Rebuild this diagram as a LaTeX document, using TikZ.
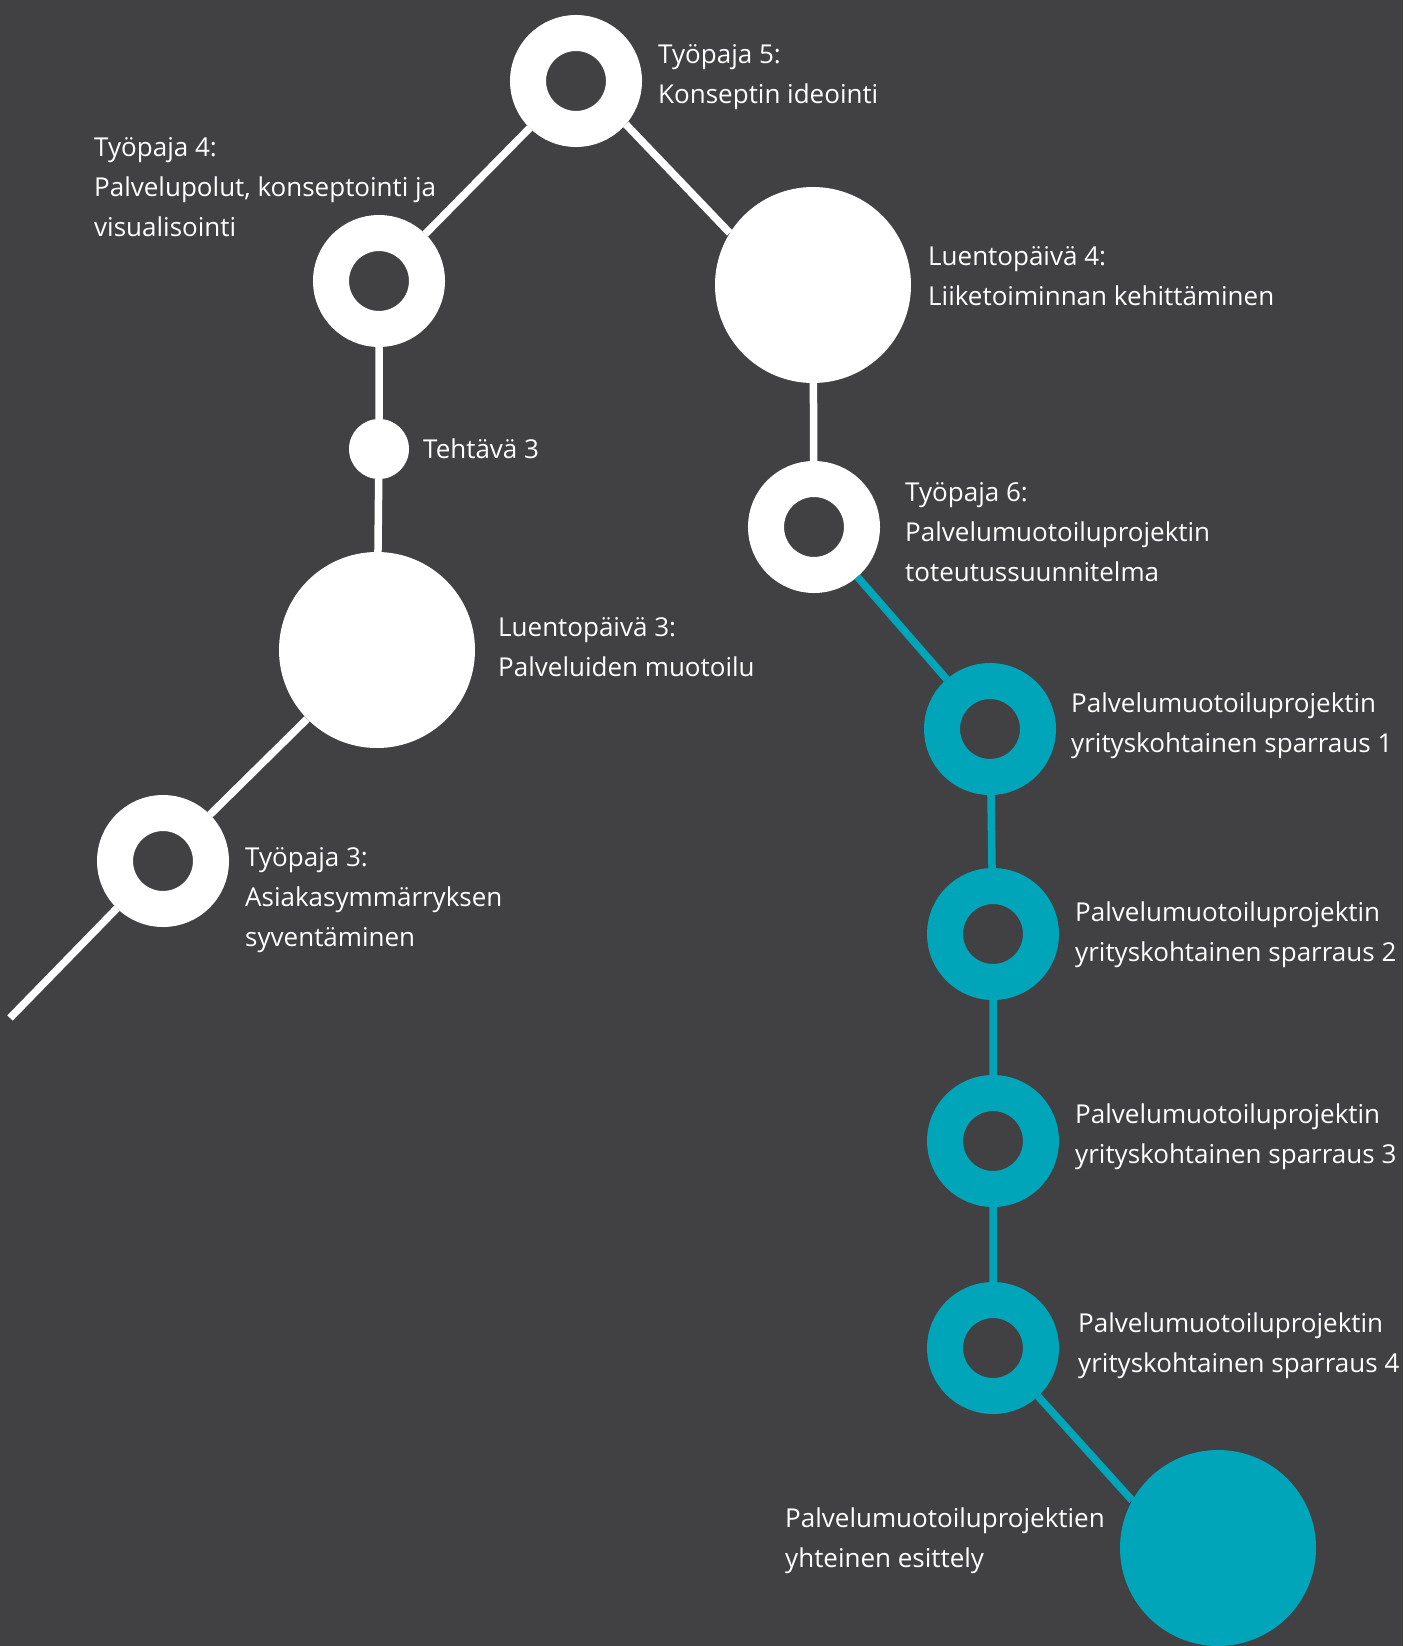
\documentclass[tikz,border=0pt]{standalone}
\usepackage{fontspec}
\setmainfont{Open Sans}
\definecolor{boardGray}{HTML}{414143}
\definecolor{pathWhite}{HTML}{FFFFFF}
\definecolor{sparTeal}{HTML}{00A5B9}
\tikzset{
  ring stop/.style={
    circle,
    draw=pathWhite,
    fill=boardGray,
    line width=36pt,
    minimum size=96pt,
    inner sep=0pt
  },
  teal ring/.style={
    ring stop,
    draw=sparTeal
  },
  lecture disk/.style={
    circle,
    fill=pathWhite,
    minimum size=196pt,
    inner sep=0pt
  },
  teal disk/.style={
    lecture disk,
    fill=sparTeal
  },
  task dot/.style={
    circle,
    fill=pathWhite,
    minimum size=60pt,
    inner sep=0pt
  },
  white edge/.style={
    draw=pathWhite,
    line width=7.5pt
  },
  teal edge/.style={
    draw=sparTeal,
    line width=7.5pt
  },
  stop label/.style={
    anchor=west,
    align=left,
    inner sep=0pt,
    text=pathWhite,
    font=\fontsize{26}{40}\selectfont
  }
}

\begin{document}
\begin{tikzpicture}[x=1pt,y=-1pt]
  \fill[boardGray] (0,0) rectangle (1403,1646);
  \useasboundingbox (0,0) rectangle (1403,1646);

  % white part of the path
  \coordinate (start) at (10,1018);
  \node[ring stop] (t3) at (163,861) {};
  \node[lecture disk] (l3) at (377,650) {};
  \node[task dot] (teh3) at (379,449) {};
  \node[ring stop] (t4) at (379,281) {};
  \node[ring stop] (t5) at (576,81) {};
  \node[lecture disk] (l4) at (813,285) {};
  \node[ring stop] (t6) at (814,527) {};

  % teal part of the path
  \node[teal ring] (s1) at (990,729) {};
  \node[teal ring] (s2) at (993,934) {};
  \node[teal ring] (s3) at (993,1141) {};
  \node[teal ring] (s4) at (993,1348) {};
  \node[teal disk] (demo) at (1218,1548) {};

  \draw[white edge] (start) -- (t3) -- (l3) -- (teh3) -- (t4) -- (t5);
  \draw[white edge] (t5.-41) -- (l4.148);
  \draw[white edge] (l4) -- (t6);
  \draw[teal edge] (t6) -- (s1) -- (s2) -- (s3) -- (s4);
  \draw[teal edge] (s4.-47) -- (demo.151);

  % labels
  \node[stop label] (t5 text) at (658,77) {Työpaja 5:\\Konseptin ideointi};
  \node[stop label] (t4 text) at (94,187) {Työpaja 4:\\Palvelupolut, konseptointi ja\\visualisointi};
  \node[stop label] (teh3 text) at (423,449) {Tehtävä 3};
  \node[stop label] (l3 text) at (498,647) {Luentopäivä 3:\\Palveluiden muotoilu};
  \node[stop label] (t3 text) at (245,900) {Työpaja 3:\\Asiakasymmärryksen\\syventäminen};
  \node[stop label] (l4 text) at (928,276) {Luentopäivä 4:\\Liiketoiminnan kehittäminen};
  \node[stop label] (t6 text) at (905,532) {Työpaja 6:\\Palvelumuotoiluprojektin\\toteutussuunnitelma};
  \node[stop label] (s1 text) at (1071,726) {Palvelumuotoiluprojektin\\yrityskohtainen sparraus 1};
  \node[stop label] (s2 text) at (1075,935) {Palvelumuotoiluprojektin\\yrityskohtainen sparraus 2};
  \node[stop label] (s3 text) at (1075,1137) {Palvelumuotoiluprojektin\\yrityskohtainen sparraus 3};
  \node[stop label] (s4 text) at (1078,1346) {Palvelumuotoiluprojektin\\yrityskohtainen sparraus 4};
  \node[stop label] (demo text) at (785,1541) {Palvelumuotoiluprojektien\\yhteinen esittely};
\end{tikzpicture}
\end{document}
